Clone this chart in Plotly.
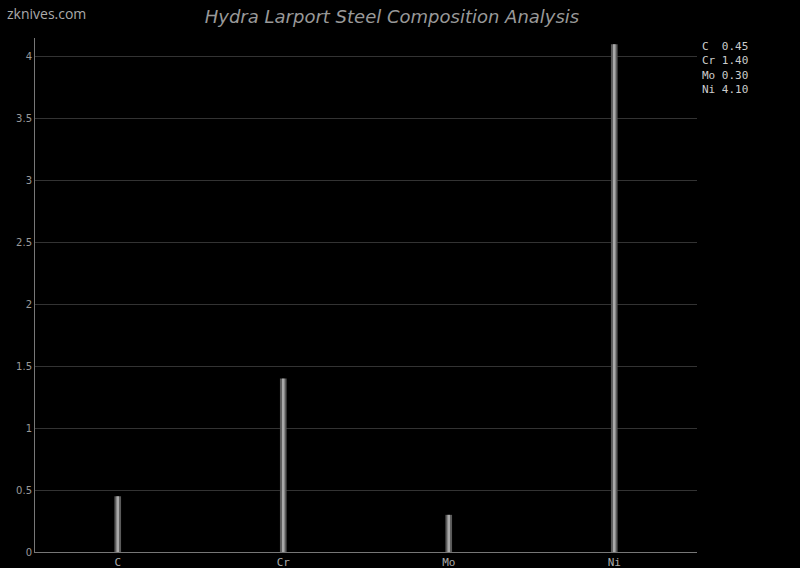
import plotly.graph_objects as go

elements = ["C", "Cr", "Mo", "Ni"]
percent = [0.45, 1.40, 0.30, 4.10]
title_text = "Hydra Larport Steel Composition Analysis"
site = "zknives.com"

legend_text = "<br>".join(f"{e:<2} {v:.2f}".replace(" ", "&nbsp;") for e, v in zip(elements, percent))

fig = go.Figure()
# darker outer bar + lighter inner bar to mimic the shaded cylinder look
fig.add_trace(go.Bar(x=elements, y=percent, width=0.04, marker=dict(color="#5a5a5a", line_width=0),
                     showlegend=False, hoverinfo="skip"))
fig.add_trace(go.Bar(x=elements, y=percent, width=0.016, marker=dict(color="#a8a8a8", line_width=0),
                     showlegend=False))

fig.update_layout(
    width=800,
    height=568,
    barmode="overlay",
    paper_bgcolor="black",
    plot_bgcolor="black",
    margin=dict(l=35, r=103, t=38, b=16),
    title=dict(text=title_text, x=0.49, xanchor="center", y=0.982, yanchor="top",
               font=dict(family="DejaVu Sans", size=18, color="#999999", style="italic")),
    xaxis=dict(range=[-0.5, 3.5], showgrid=False, showline=True, linecolor="#777777", linewidth=1,
               ticks="", automargin=False,
               tickfont=dict(family="DejaVu Sans Mono", size=11, color="#aaaaaa")),
    yaxis=dict(range=[0, 4.15], dtick=0.5, showgrid=True, gridcolor="#333333", showline=True,
               linecolor="#777777", linewidth=1, zeroline=False, ticks="", automargin=False,
               tickfont=dict(family="DejaVu Sans", size=10, color="#999999")),
    annotations=[
        dict(text=legend_text, xref="paper", yref="paper", x=1.004, y=1.0, xanchor="left", yanchor="top",
             showarrow=False, align="left",
             font=dict(family="DejaVu Sans Mono", size=11, color="#cccccc")),
        dict(text=site, xref="paper", yref="paper", x=-0.046, y=1.07, xanchor="left", yanchor="top",
             showarrow=False, font=dict(family="Open Sans", size=14, color="#aaaaaa")),
    ],
)

fig.write_html(
    "out.html",
    config={"displayModeBar": False},
    post_script="document.body.style.margin='0';document.body.style.background='black';",
)
